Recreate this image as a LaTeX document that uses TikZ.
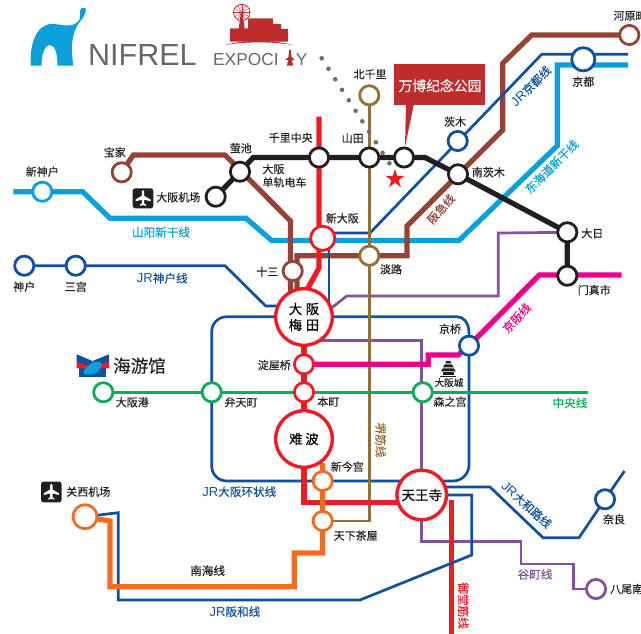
\documentclass[tikz,border=0pt]{standalone}
\usepackage{fontspec}
\setmainfont{Noto Sans CJK SC}[FakeBold=0.22]
\newfontfamily\latinf{Liberation Sans}
\usetikzlibrary{shapes.geometric}
\pgfdeclarelayer{bg}
\pgfsetlayers{bg,main}
\definecolor{jrblue}{HTML}{0F50A0}
\definecolor{shink}{HTML}{0BA0DC}
\definecolor{hankyu}{HTML}{944334}
\definecolor{subred}{HTML}{ED1C24}
\definecolor{sakai}{HTML}{957036}
\definecolor{purp}{HTML}{8350A2}
\definecolor{pinkk}{HTML}{EC008C}
\definecolor{greenl}{HTML}{10AB58}
\definecolor{orangel}{HTML}{F36B21}
\definecolor{blk}{HTML}{231F20}
\definecolor{boxred}{HTML}{BE2D2D}
\definecolor{logogrey}{HTML}{66686B}
\definecolor{dotgrey}{HTML}{6D6E71}
\tikzset{
 x=1pt,y=-1pt,
 stn/.style={circle,draw=#1,fill=white,line width=2.8pt,minimum size=19.2pt,inner sep=0pt,outer sep=0pt},
 bigstn/.style={circle,draw=subred,fill=white,line width=3.4pt,minimum size=#1,inner sep=0pt,outer sep=0pt,font=\fontsize{13.5}{16}\selectfont,align=center},
 lab/.style={font=\fontsize{11}{13.3}\selectfont,text=blk,inner sep=0pt,align=center},
 llab/.style={font=\fontsize{11.6}{13}\selectfont,inner sep=0pt,text=#1},
 thin line/.style={draw=#1,line width=2.7pt},
 wide line/.style={draw=#1,line width=5.2pt},
}
\begin{document}
\begin{tikzpicture}
\useasboundingbox (0,0) rectangle (641,634);
% ---- free line ends
\coordinate (sanyoL) at (13.3,191.7);
\coordinate (tokR) at (628,65);
\coordinate (kyotoR) at (628,54.3);
\coordinate (keihanR) at (621.7,275);
\coordinate (chuoR) at (587.7,392.3);
\coordinate (midoE) at (451,634);
\coordinate (naraE) at (624.5,471);
\coordinate (midoN) at (319,116.7);
% ---- stations
\node[stn=shink] (shinkobe) at (42.3,191.7) {};
\node[stn=hankyu] (takara) at (121.7,172.3) {};
\node[stn=blk] (hotaru) at (240,171.7) {};
\node[stn=blk] (osakaap) at (215.7,196.7) {};
\node[stn=blk] (senri) at (319,157.5) {};
\node[stn=blk] (yamada) at (369.3,157.5) {};
\node[stn=blk] (banpaku) at (404,157.5) {};
\node[stn=sakai] (kitas) at (369.3,95.3) {};
\node[stn=jrblue] (ibaraki) at (457.7,141) {};
\node[stn=blk] (minami) at (458,174.3) {};
\node[stn=hankyu] (kawara) at (629.3,35) {};
\node[stn=jrblue,minimum size=23.2pt] (kyoto) at (583.3,59.3) {};
\node[stn=blk] (dainichi) at (567.3,232.3) {};
\node[stn=blk] (monma) at (567.3,275.7) {};
\node[stn=subred,minimum size=24.2pt] (shinosaka) at (322.7,238.3) {};
\node[stn=sakai] (awaji) at (369.3,255.7) {};
\node[stn=hankyu] (juso) at (292.7,271) {};
\node[stn=jrblue] (kobe) at (24.3,265.7) {};
\node[stn=jrblue] (sannomiya) at (75.7,265.7) {};
\node[stn=subred] (yodo) at (304,364.3) {};
\node[stn=subred] (honmachi) at (304,392.3) {};
\node[stn=jrblue] (kyobashi) at (469,345.7) {};
\node[stn=greenl] (morino) at (422.7,392.3) {};
\node[stn=greenl] (benten) at (211.7,392.3) {};
\node[stn=greenl] (port) at (103.3,392.3) {};
\node[stn=orangel] (shinima) at (322.7,481) {};
\node[stn=orangel] (tenga) at (322.7,521) {};
\node[stn=orangel,minimum size=24pt] (kansai) at (85,516.7) {};
\node[stn=jrblue] (nara) at (605,499.3) {};
\node[stn=purp] (yao) at (596,589) {};
\node[bigstn=56.6pt] (umeda) at (304,317) {大\hspace{3.5pt}阪\\梅\hspace{3.5pt}田};
\node[bigstn=56.6pt] (namba) at (304,439) {难\hspace{2.5pt}波};
\node[bigstn=49.6pt] (tennoji) at (421.7,495) {天王寺};
% ---- lines, under the stations
\begin{pgfonlayer}{bg}
 % Shinkansen
 \draw[wide line=shink] (sanyoL) -- (shinkobe) -- (82.7,191.7) -- (110,218.3) -- (246,218.3) -- (271.7,240.5) -- (459,240.5) -- (557.3,145.7) -- (557.3,65) -- (tokR);
 % Hankyu
 \draw[wide line=hankyu] (takara) -- (133.3,155) -- (225,155) -- (290.5,221) -- (290.5,300);
 \draw[wide line=hankyu] (kawara) -- (531.7,35) -- (502.7,63.3) -- (502.7,130) -- (407,226) -- (407,255.7) -- (296.9,255.7) -- (296.9,300);
 % JR Kobe
 \draw[thin line=jrblue] (kobe) -- (sannomiya) -- (225,265.7) -- (265.7,306) -- (290,306);
 % JR Kyoto
 \draw[thin line=jrblue] (kyotoR) -- (541.7,54.3) -- (370,233) -- (329,233);
 \draw[thin line=jrblue] (329,238) -- (329,316.7);
 % JR loop
 \draw[thin line=jrblue] (304,316.7) -- (226.7,316.7) arc[start angle=-90,end angle=-180,radius=15] -- (211.7,466) arc[start angle=180,end angle=90,radius=15] -- (453,481) arc[start angle=90,end angle=0,radius=16] -- (469,333) .. controls (469,322) and (463,316.7) .. (456.7,316.7) -- (304,316.7);
 % Tanimachi
 \draw[draw=purp,line width=2.7pt] (dainichi) -- (498.3,233) -- (498.3,296) -- (346.7,296) -- (320,317);
 \draw[draw=purp,line width=2.7pt] (310,340.7) -- (421.7,340.7) -- (421.7,541.7) -- (521,541.7) -- (521,564) -- (573.3,564) -- (573.3,589) -- (yao);
 % Midosuji south
 \draw[draw=subred,line width=5pt] (451,500) -- (midoE);
 % JR Hanwa
 \draw[thin line=jrblue] (kansai) -- (118.3,512.7) -- (118.3,600) -- (360,600) -- (471.7,555) -- (471.7,495) -- (440,495);
 % JR Yamatoji
 \draw[thin line=jrblue] (445,487) -- (490,487) -- (543,537.7) -- (579,537.7) -- (nara) -- (naraE);
 % Monorail
 \draw[wide line=blk] (osakaap) -- (hotaru) -- (253.3,157.5) -- (senri) -- (yamada) -- (banpaku) -- (425,157.5) -- (minami) -- (dainichi) -- (monma);
 % Sakaisuji
 \draw[draw=sakai,line width=2.7pt] (kitas) -- (369.3,521) -- (tenga);
 % Keihan
 \draw[wide line=pinkk] (yodo) -- (428.3,364.3) -- (428.3,355) -- (458.3,355) -- (kyobashi.center) -- (539.3,275) -- (keihanR);
 % Chuo
 \draw[draw=greenl,line width=2.7pt] (port) -- (chuoR);
 % Midosuji
 \draw[wide line=subred] (midoN) -- (319,268) -- (308,288);
 \draw[wide line=subred] (umeda) -- (namba) -- (304,502.7) -- (410,502.7);
 % Nankai
 \draw[wide line=orangel] (kansai) -- (110,521) -- (110,586.7) -- (294.3,586.7) -- (294.3,553) -- (322.7,553) -- (322.7,463);
\end{pgfonlayer}
% ---- access dots
\foreach \i in {0,...,10}{ \fill[dotgrey] ({321.7+6.77*\i},{58.3+10.5*\i}) circle (2.3pt);}
% ---- station labels
\node[lab] (t1) at (42.3,171.7) {新神户};
\node[lab] (t2) at (114.7,152.3) {宝家};
\node[lab] (t3) at (240.7,148.3) {萤池};
\node[lab] (t4) at (290.7,137.7) {千里中央};
\node[lab,align=left,anchor=west] (t5) at (262.3,175.7) {大阪\\单轨电车};
\node[lab] (t6) at (178.3,197.3) {大阪机场};
\node[lab] (t7) at (370,74.3) {北千里};
\node[lab] (t8) at (352.7,138.3) {山田};
\node[lab] (t9) at (455,121.7) {茨木};
\node[lab] (t10) at (488.3,172.3) {南茨木};
\node[lab,anchor=west] (t11) at (613.3,15.7) {河原町};
\node[lab] (t12) at (583.3,81.7) {京都};
\node[lab] (t13) at (592.3,233.3) {大日};
\node[lab] (t14) at (594.3,290) {门真市};
\node[lab] (t15) at (342.3,218.3) {新大阪};
\node[lab] (t16) at (391,269.3) {淡路};
\node[lab] (t17) at (267.3,271.7) {十三};
\node[lab] (t18) at (24.3,286.7) {神户};
\node[lab] (t19) at (75.7,286.7) {三宫};
\node[lab] (t20) at (274.3,365) {淀屋桥};
\node[lab] (t21) at (328.3,401.7) {本町};
\node[lab] (t22) at (450,329) {京桥};
\node[lab,font=\fontsize{9.6}{10}\selectfont] (t23) at (449,382.7) {大阪城};
\node[lab] (t24) at (450,401.7) {森之宫};
\node[lab] (t25) at (132.3,402.3) {大阪港};
\node[lab] (t26) at (241,402.3) {弁天町};
\node[lab] (t27) at (347.3,466.7) {新今宫};
\node[lab] (t28) at (355.7,535.7) {天下茶屋};
\node[lab] (t29) at (88.3,491.7) {关西机场};
\node[lab] (t30) at (614,519.3) {奈良};
\node[lab,anchor=west] (t31) at (610,589) {八尾南};
\node[font=\fontsize{17.5}{18}\selectfont,text=blk,inner sep=0pt] (t32) at (139.5,365.7) {海游馆};
% ---- line labels
\node[llab=shink] (l1) at (161,232.3) {山阳新干线};
\node[llab=jrblue] (l2) at (162.3,278.3) {{\latinf\fontsize{13}{13}\selectfont JR}神户线};
\node[llab=jrblue,rotate=45] (l4) at (531,86) {{\latinf\fontsize{13}{13}\selectfont JR}京都线};
\node[llab=hankyu,rotate=48] (l5) at (441,209) {阪急线};
\node[llab=shink,rotate=45] (l6) at (551.7,166.7) {东海道新干线};
\node[llab=pinkk,rotate=47] (l7) at (516.7,318) {京阪线};
\node[llab=greenl] (l8) at (570,403) {中央线};
\node[llab=sakai,rotate=-90] (l9) at (380.7,440) {堺筋线};
\node[llab=jrblue] (l10) at (239.3,491.7) {{\latinf\fontsize{13}{13}\selectfont JR}大阪环状线};
\node[llab=jrblue,rotate=-42] (l11) at (526.7,505) {{\latinf\fontsize{13}{13}\selectfont JR}大和路线};
\node[llab=purp] (l12) at (535,574.3) {谷町线};
\node[llab=blk] (l13) at (207.7,570.7) {南海线};
\node[llab=jrblue] (l14) at (235,611.7) {{\latinf\fontsize{13}{13}\selectfont JR}阪和线};
\node[llab=subred,rotate=-90] (l15) at (463.3,605.7) {御堂筋线};
% ---- callout
\fill[boxred] (394,64) rectangle (485,105);
\fill[boxred] (406,104) -- (414,104) -- (405,146.7) -- cycle;
\node[font=\fontsize{13.8}{14}\selectfont,text=white,inner sep=0pt] (wanbo) at (440,85.7) {万博纪念公园};
\node[star,star points=5,star point ratio=2.6,fill=subred,minimum size=20pt,inner sep=0pt] (star) at (395,179) {};
% ---- plane icons
\fill[blk,rounded corners=2.5pt] (132.7,188.3) rectangle (153.3,208.3);
\fill[blk,rounded corners=2.5pt] (41,481.7) rectangle (61.7,502.3);
\foreach \px/\py in {143/198.3,51.3/492}{
 \begin{scope}[shift={(\px,\py)}]
  \fill[white] (-1.2,-7) .. controls (-1.2,-8.4) and (1.2,-8.4) .. (1.2,-7) -- (1.2,-2.5) -- (7.5,1.2) -- (7.5,3) -- (1.2,1.4) -- (1.2,5) -- (3,6.5) -- (3,7.6) -- (0,6.8) -- (-3,7.6) -- (-3,6.5) -- (-1.2,5) -- (-1.2,1.4) -- (-7.5,3) -- (-7.5,1.2) -- (-1.2,-2.5) -- cycle;
 \end{scope}}
% ---- castle icon
\begin{scope}[shift={(448.3,369.3)}]
 \fill[blk] (-2,-8.5) -- (2,-8.5) -- (3,-6) -- (-3,-6) -- cycle;
 \fill[blk] (-3.5,-5) -- (3.5,-5) -- (5.5,-2) -- (-5.5,-2) -- cycle;
 \fill[blk] (-5.5,-1) -- (5.5,-1) -- (7.5,2) -- (-7.5,2) -- cycle;
 \fill[blk] (-5.5,3) rectangle (5.5,5.5);
 \fill[blk] (-8,6.2) rectangle (8,8);
\end{scope}
% ---- NIFREL logo
\fill[shink] (30.7,65.7) .. controls (29.5,45) and (36,24) .. (52,24) .. controls (62,24) and (72,29) .. (79,20.5) .. controls (80.5,18) and (80,14) .. (80,11) .. controls (80.5,8) and (83,6.5) .. (85.5,8) .. controls (86.5,10) and (85,15) .. (82.5,18.5) .. controls (81,21) and (74,26) .. (72,44) .. controls (71.5,50) and (72.5,60) .. (73.3,65.7) -- (57.3,65.7) .. controls (58,55) and (55,45) .. (50,45) .. controls (45,45) and (41,55) .. (41.7,65.7) -- cycle;
\node[font=\latinf\fontsize{30.5}{31}\selectfont,text=logogrey,inner sep=0pt,anchor=base west] (nif) at (88,65.7) {NIFREL};
% ---- EXPOCITY logo
\fill[boxred] (230,41.7) -- (230,28.3) -- (248,28.3) -- (248,18.3) -- (273,18.3) -- (273,24) -- (281,24) -- (281,29) -- (288,29) -- (288,41.7) -- cycle;
\fill[boxred] (225,45) .. controls (245,39.5) and (272,39.5) .. (293,45) .. controls (272,41.5) and (245,41.5) .. (225,45) -- cycle;
\draw[draw=boxred,line width=.8pt] (241.7,12.5) circle (8.2pt);
\foreach \a in {0,30,...,330}{\draw[draw=boxred,line width=.4pt] (241.7,12.5) -- ++(\a:8.2pt);}
\fill[boxred] (241,12.5) -- (242.4,12.5) -- (245,30) -- (238.4,30) -- cycle;
\node[font=\latinf\fontsize{17.3}{18}\selectfont,text=logogrey,inner sep=0pt,anchor=base west] (expo) at (213,65.7) {EXPOCI};
\node[font=\latinf\fontsize{17.3}{18}\selectfont,text=logogrey,inner sep=0pt,anchor=base] (expoy) at (301.7,65.7) {Y};
\fill[boxred] (289,50) -- (291,50) -- (291.5,57) -- (295,60) -- (292,60) -- (293,65.7) -- (287,65.7) -- (288,60) -- (285,60) -- (288.5,57) -- cycle;
% ---- aquarium logo
\fill[jrblue] (79,368) rectangle (106,377);
\fill[jrblue] (76.7,354.3) -- (92.5,361) -- (92.5,368) -- (76.7,362) -- cycle;
\fill[jrblue] (109,354.3) -- (92.5,361) -- (92.5,368) -- (109,362) -- cycle;
\fill[subred] (76.7,361.7) -- (89,366) -- (89,368.3) -- (76.7,368.3) -- cycle;
\fill[subred] (109,361.7) -- (96,366) -- (96,368.3) -- (109,368.3) -- cycle;
\fill[shink] (84,370) .. controls (90,364) and (96,358) .. (102,364) .. controls (100,372) and (94,376) .. (84,374) -- cycle;
\end{tikzpicture}
\end{document}
